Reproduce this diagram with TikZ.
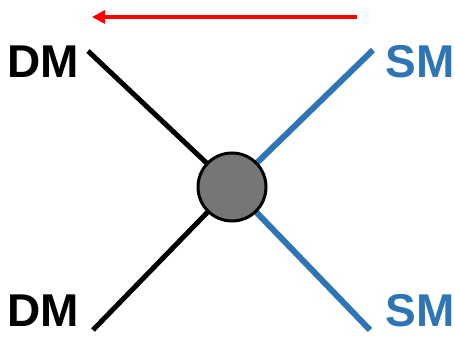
\documentclass[tikz,border=0pt]{standalone}
\usepackage{fontspec}
\setmainfont{Liberation Sans}
\usetikzlibrary{arrows.meta,backgrounds}
\definecolor{smblue}{RGB}{46,117,182}
\definecolor{vgray}{RGB}{118,118,118}
\tikzset{
  dmlabel/.style={font=\fontsize{46}{46}\selectfont\bfseries, text=black, inner sep=0pt, anchor=center},
  smlabel/.style={font=\fontsize{46}{46}\selectfont\bfseries, text=smblue, inner sep=0pt, anchor=center},
  dmline/.style={line width=5pt, black},
  smline/.style={line width=6pt, smblue},
  vertex/.style={circle, draw=black, line width=3pt, fill=vgray, minimum size=68pt, inner sep=0pt},
  flow/.style={line width=4pt, red, -{Triangle[length=13pt,width=13pt]}}
}
\begin{document}
\begin{tikzpicture}[x=1pt,y=-1pt]
\useasboundingbox (0,0) rectangle (455,337);
\coordinate (a1) at (88,51);
\coordinate (a2) at (93,330);
\coordinate (b1) at (373,50);
\coordinate (b2) at (370,330);
\coordinate (r1) at (357,17);
\coordinate (r2) at (92,17);
\node[dmlabel] (dm1) at (43,62) {DM};
\node[dmlabel] (dm2) at (43,311) {DM};
\node[smlabel] (sm1) at (420,62) {SM};
\node[smlabel] (sm2) at (420,311) {SM};
\node[vertex] (v) at (232,187) {};
\begin{scope}[on background layer]
\draw[dmline] (a1) -- (v.center);
\draw[dmline] (a2) -- (v.center);
\draw[smline] (b1) -- (v.center);
\draw[smline] (b2) -- (v.center);
\end{scope}
\draw[flow] (r1) -- (r2);
\end{tikzpicture}
\end{document}
